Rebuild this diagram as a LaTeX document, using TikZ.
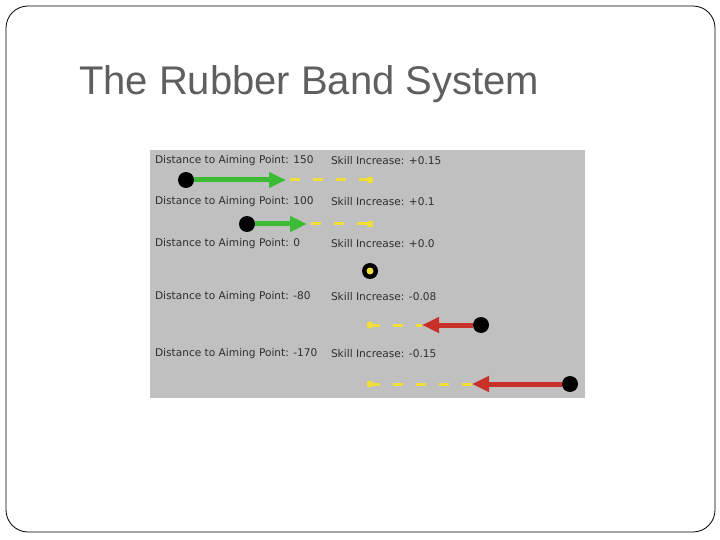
\documentclass[tikz,border=0pt]{standalone}
\usepackage{fontspec}
\setmainfont{Liberation Sans}
\newfontfamily\panelfont{DejaVu Sans}
\usepackage{tikz}
\usetikzlibrary{arrows.meta,positioning}
\definecolor{TitleGrey}{HTML}{5F5F5F}
\definecolor{PanelGrey}{HTML}{C0C0C0}
\definecolor{PanelText}{HTML}{2E2E2E}
\definecolor{PushGreen}{HTML}{3CBB34}
\definecolor{PullRed}{HTML}{C8302A}
\definecolor{AimYellow}{HTML}{F2DE3A}
\tikzset{
    every node/.style={inner sep=0pt, outer sep=0pt},
    infotext/.style={
        anchor=west, font=\panelfont\fontsize{10.6}{12}\selectfont,
        text=PanelText
    },
    ballnode/.style={
        circle, fill=black, minimum size=16pt
    },
    aimnode/.style={
        circle, fill=AimYellow, minimum size=7pt
    },
    pusharrow/.style={
        -{Triangle[length=17pt,width=15pt]}, line width=5pt, color=PushGreen
    },
    pullarrow/.style={
        -{Triangle[length=17pt,width=15pt]}, line width=5pt, color=PullRed
    },
    aimdash/.style={
        line width=3pt, color=AimYellow, dash pattern=on 10pt off 13pt
    },
}

\begin{document}
\begin{tikzpicture}[x=1pt, y=-1pt]
    \useasboundingbox (0,0) rectangle (720,540);
    \fill[white] (0,0) rectangle (720,540);

    % Slide frame and title
    \draw[black, line width=0.8pt, rounded corners=22pt] (6,6) rectangle (715,532);
    \node[anchor=base west, font=\fontsize{40}{44}\selectfont, text=TitleGrey] (title)
        at (79,95) {The Rubber Band System};

    % Grey panel
    \fill[PanelGrey] (150,150) rectangle (585,398);

    % Row 1
    \node[infotext] (dist1) at (155,161) {Distance to Aiming Point: 150};
    \node[infotext] (skill1) at (331,161) {Skill Increase: +0.15};
    \node[ballnode] (ball1) at (186,180) {};
    \coordinate (tip1) at (286,180);
    \node[aimnode] (aim1) at (370,180) {};
    \draw[aimdash, dash phase=-4pt] (tip1) -- (aim1);
    \draw[pusharrow] (ball1) -- (tip1);

    % Row 2
    \node[infotext] (dist2) at (155,202) {Distance to Aiming Point: 100};
    \node[infotext] (skill2) at (331,202) {Skill Increase: +0.1};
    \node[ballnode] (ball2) at (247,224) {};
    \coordinate (tip2) at (307,224);
    \node[aimnode] (aim2) at (370,224) {};
    \draw[aimdash, dash phase=-4pt] (tip2) -- (aim2);
    \draw[pusharrow] (ball2) -- (tip2);

    % Row 3 -- on the aiming point
    \node[infotext] (dist3) at (155,244) {Distance to Aiming Point: 0};
    \node[infotext] (skill3) at (331,244) {Skill Increase: +0.0};
    \node[ballnode] (ball3) at (370,271) {};
    \node[aimnode] (aim3) at (370,271) {};

    % Row 4
    \node[infotext] (dist4) at (155,297) {Distance to Aiming Point: -80};
    \node[infotext] (skill4) at (331,297) {Skill Increase: -0.08};
    \node[ballnode] (ball4) at (481,325) {};
    \coordinate (tip4) at (422,325);
    \node[aimnode] (aim4) at (370,325) {};
    \draw[aimdash] (aim4.center) -- (tip4);
    \draw[pullarrow] (ball4) -- (tip4);

    % Row 5
    \node[infotext] (dist5) at (155,354) {Distance to Aiming Point: -170};
    \node[infotext] (skill5) at (331,354) {Skill Increase: -0.15};
    \node[ballnode] (ball5) at (570,384) {};
    \coordinate (tip5) at (472,384);
    \node[aimnode] (aim5) at (370,384) {};
    \draw[aimdash] (aim5.center) -- (tip5);
    \draw[pullarrow] (ball5) -- (tip5);
\end{tikzpicture}
\end{document}
